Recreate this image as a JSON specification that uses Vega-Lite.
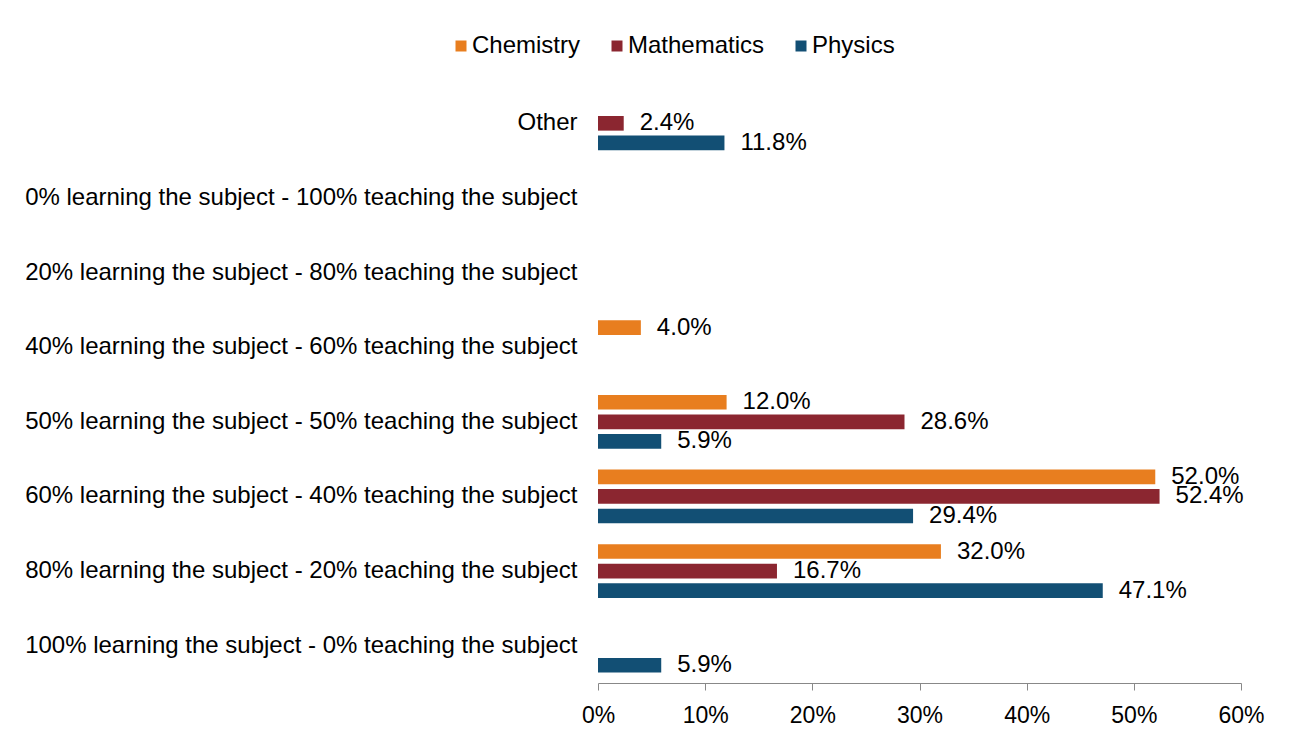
{
  "$schema": "https://vega.github.io/schema/vega-lite/v6.json",
  "width": 643,
  "height": 597,
  "autosize": {"type": "none"},
  "padding": {"left": 598, "top": 86, "right": 64, "bottom": 55},
  "background": "white",
  "config": {"font": "Liberation Sans", "view": {"stroke": null}},
  "data": {
    "values": [
      {"category": "Other", "subject": "Mathematics", "value": 0.024},
      {"category": "Other", "subject": "Physics", "value": 0.118},
      {"category": "40% learning the subject - 60% teaching the subject", "subject": "Chemistry", "value": 0.04},
      {"category": "50% learning the subject - 50% teaching the subject", "subject": "Chemistry", "value": 0.12},
      {"category": "50% learning the subject - 50% teaching the subject", "subject": "Mathematics", "value": 0.286},
      {"category": "50% learning the subject - 50% teaching the subject", "subject": "Physics", "value": 0.059},
      {"category": "60% learning the subject - 40% teaching the subject", "subject": "Chemistry", "value": 0.52},
      {"category": "60% learning the subject - 40% teaching the subject", "subject": "Mathematics", "value": 0.524},
      {"category": "60% learning the subject - 40% teaching the subject", "subject": "Physics", "value": 0.294},
      {"category": "80% learning the subject - 20% teaching the subject", "subject": "Chemistry", "value": 0.32},
      {"category": "80% learning the subject - 20% teaching the subject", "subject": "Mathematics", "value": 0.167},
      {"category": "80% learning the subject - 20% teaching the subject", "subject": "Physics", "value": 0.471},
      {"category": "100% learning the subject - 0% teaching the subject", "subject": "Physics", "value": 0.059}
    ]
  },
  "encoding": {
    "y": {
      "field": "category",
      "type": "nominal",
      "scale": {
        "domain": [
          "Other",
          "0% learning the subject - 100% teaching the subject",
          "20% learning the subject - 80% teaching the subject",
          "40% learning the subject - 60% teaching the subject",
          "50% learning the subject - 50% teaching the subject",
          "60% learning the subject - 40% teaching the subject",
          "80% learning the subject - 20% teaching the subject",
          "100% learning the subject - 0% teaching the subject"
        ],
        "paddingInner": 0.28,
        "paddingOuter": 0.14
      },
      "axis": {
        "title": null,
        "domain": false,
        "ticks": false,
        "labelFontSize": 24,
        "labelColor": "#000000",
        "labelPadding": 21,
        "labelLimit": 700
      }
    },
    "yOffset": {
      "field": "subject",
      "type": "nominal",
      "scale": {"domain": ["Chemistry", "Mathematics", "Physics"], "paddingInner": 0.25, "paddingOuter": 0}
    },
    "x": {
      "field": "value",
      "type": "quantitative",
      "scale": {"domain": [0, 0.6], "nice": false},
      "axis": {
        "title": null,
        "format": "%",
        "values": [0, 0.1, 0.2, 0.3, 0.4, 0.5, 0.6],
        "grid": false,
        "domainColor": "#888888",
        "tickColor": "#888888",
        "tickSize": 7,
        "labelFontSize": 23,
        "labelColor": "#000000",
        "labelPadding": 14,
        "labelFlush": false
      }
    }
  },
  "layer": [
    {
      "mark": {"type": "bar"},
      "encoding": {
        "color": {
          "field": "subject",
          "type": "nominal",
          "scale": {"domain": ["Chemistry", "Mathematics", "Physics"], "range": ["#E87E1F", "#8B2630", "#124F74"]},
          "legend": {
            "title": null,
            "orient": "none",
            "direction": "horizontal",
            "legendX": -149,
            "legendY": -52,
            "symbolType": "square",
            "symbolSize": 121,
            "symbolStrokeWidth": 0,
            "labelFontSize": 24,
            "labelColor": "#000000",
            "labelOffset": -1,
            "columnPadding": 24
          }
        }
      }
    },
    {
      "mark": {"type": "text", "align": "left", "baseline": "middle", "dx": 16, "fontSize": 24, "color": "#000000"},
      "encoding": {"text": {"field": "value", "type": "quantitative", "format": ".1%"}}
    }
  ]
}
